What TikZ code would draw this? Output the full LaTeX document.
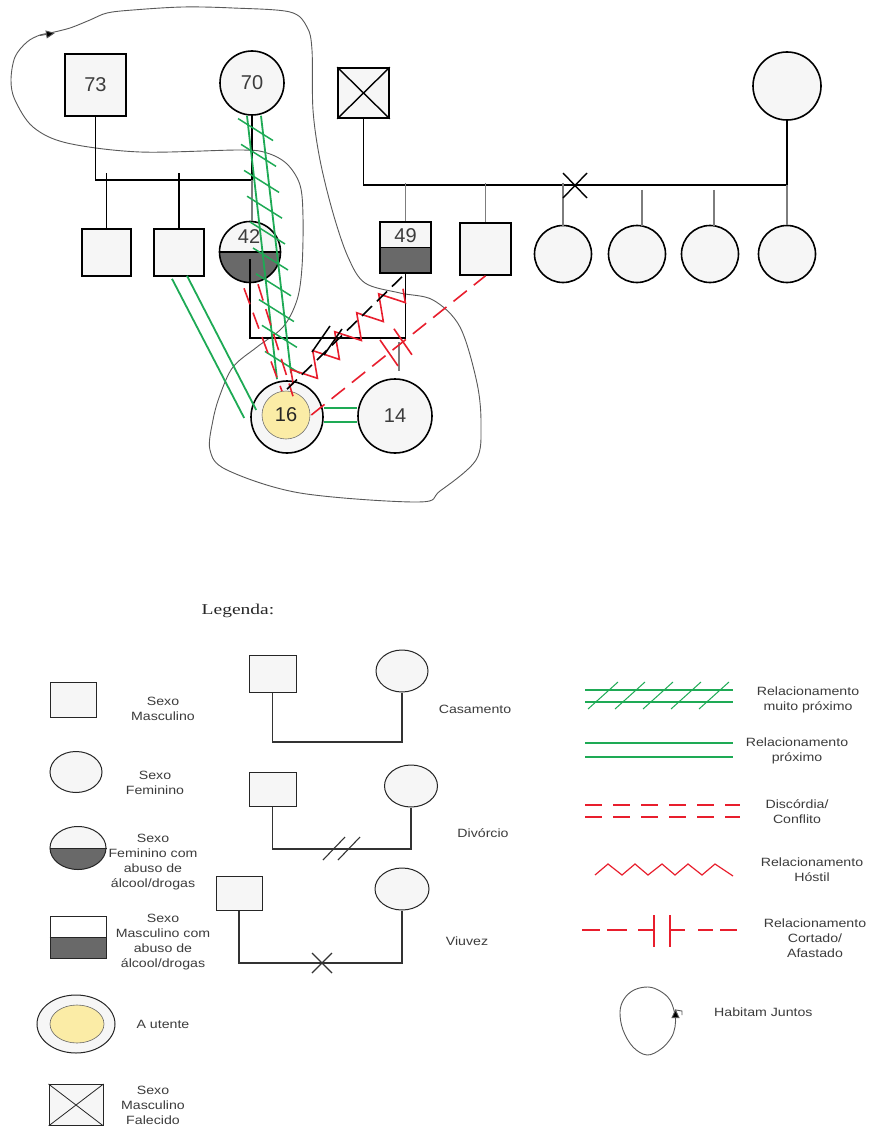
\documentclass[tikz,border=0pt]{standalone}
\usepackage{fontspec}
\setmainfont{Liberation Sans}
\newfontfamily\arialf{Liberation Sans}
\newfontfamily\legf[FakeStretch=1.18]{Liberation Sans}
\newfontfamily\serf[FakeStretch=1.3]{Liberation Serif}
\usetikzlibrary{shapes.geometric,calc,decorations.pathmorphing,arrows.meta}
\definecolor{lfill}{RGB}{246,246,246}
\definecolor{dfill}{RGB}{105,105,105}
\definecolor{ugreen}{RGB}{30,170,85}
\definecolor{ured}{RGB}{232,30,45}
\definecolor{ugray}{RGB}{125,125,125}
\definecolor{uyel}{RGB}{251,236,166}
\definecolor{txt}{RGB}{60,60,60}
\tikzset{
  pers/.style={draw=black, line width=1.6pt, fill=lfill, inner sep=0pt},
  num/.style={font=\arialf\fontsize{20}{20}\selectfont, text=txt, inner sep=0pt},
  halfshade/.style={path picture={\fill[dfill] (path picture bounding box.west) rectangle (path picture bounding box.south east);}},
  blk/.style={draw=black, line width=1.6pt},
  gry/.style={draw=ugray, line width=1.1pt},
  gline/.style={draw=ugreen, line width=1.8pt},
  ghatch/.style={draw=ugreen, line width=1.5pt},
  rdash/.style={draw=ured, line width=1.6pt, dash pattern=on 17pt off 9pt},
  rline/.style={draw=ured, line width=1.6pt},
  cont/.style={draw=black!65, line width=0.9pt},
  lg/.style={font=\legf\fontsize{12}{15}\selectfont, align=center, text=txt, inner sep=0pt},
  lpers/.style={draw=black!85, line width=1pt, fill=lfill, inner sep=0pt},
  lline/.style={draw=black!80, line width=1.1pt},
  lgreen/.style={draw=ugreen, line width=1.2pt},
  lred/.style={draw=ured, line width=1.2pt},
}
\begin{document}
\begin{tikzpicture}[x=1pt,y=-1pt]
\fill[white] (0,0) rectangle (868,1126);
\useasboundingbox (0,0) rectangle (868,1126);

% ---------- living-together contour ----------
\draw[cont] plot[smooth cycle, tension=0.55] coordinates {
 (50,33) (70,28) (90,20) (107,13) (133,10) (183,7) (233,8) (290,12) (307,27) (312,50)
 (313,110) (320,160) (333,213) (348,257) (365,283) (400,293) (433,300) (460,327)
 (477,383) (481,425) (476,460) (440,491) (418,502) (300,493) (227,470) (210,450)
 (213,420) (220,395) (233,367) (257,347) (283,327) (297,300) (302,267) (303,217)
 (300,185) (287,164) (267,153) (240,150) (140,152) (67,143) (33,127) (15,100)
 (11,80) (15,57) (27,42) (40,35)};
\draw[cont, -{Triangle[length=9pt,width=8pt]}, arrows={-{Triangle[length=9pt,width=8pt,fill=black]}}] (40,35.5) -- (55,33);

% ---------- persons ----------
\node[pers, rectangle, minimum width=61pt, minimum height=62pt, num] (n73) at (95.5,85) {73};
\node[pers, circle, minimum size=64pt, num] (n70) at (252,83) {70};
\node[pers, rectangle, minimum width=51pt, minimum height=50pt] (nD) at (363.5,93) {};
\draw[line width=1.4pt] (nD.north west) -- (nD.south east) (nD.north east) -- (nD.south west);
\node[pers, circle, minimum size=68pt] (nW) at (787,86) {};

\node[pers, rectangle, minimum width=49pt, minimum height=47pt] (s1) at (106.5,252.5) {};
\node[pers, rectangle, minimum width=50pt, minimum height=47pt] (s2) at (179,252.5) {};
\node[pers, circle, minimum size=61pt, halfshade] (n42) at (250,252) {};
\draw[line width=1.4pt] (n42.west) -- (n42.east);
\node[num] (t42) at (249,237) {42};

\node[pers, rectangle, minimum width=51pt, minimum height=51pt, halfshade] (n49) at (405.5,247.5) {};
\draw[line width=1.4pt] (n49.west) -- (n49.east);
\node[num] (t49) at (405.5,236) {49};
\node[pers, rectangle, minimum width=51pt, minimum height=52pt] (nU) at (485.5,249) {};
\node[pers, circle, minimum size=57pt] (c1) at (563,254) {};
\node[pers, circle, minimum size=57pt] (c2) at (637,254) {};
\node[pers, circle, minimum size=57pt] (c3) at (710,254) {};
\node[pers, circle, minimum size=57pt] (c4) at (787,254) {};

\node[pers, circle, minimum size=72pt] (n16) at (287,417) {};
\node[circle, draw=black!55, line width=0.6pt, fill=uyel, minimum size=48pt, inner sep=0pt, num, text=black!85] (n16i) at (286,415) {16};
\node[pers, circle, minimum size=74pt, num] (n14) at (395,416) {14};

% ---------- family lines ----------
\coordinate (m1) at (252,180);
\draw[blk] (n73.south) |- (m1) -- (n70.south);
\draw[gry] (m1) -- (m1 |- n42.north);
\draw[blk] (s1.north) -- (s1.north |- 0,173);
\draw[blk] (s2.north) -- (s2.north |- 0,173);

\coordinate (m2) at (787,185);
\draw[blk] (nD.south) |- (m2) -- (nW.south);
\draw[gry] (m2) -- (c4.north);
\draw[gry] (n49.north) -- (n49.north |- 0,183);
\draw[gry] (nU.north) -- (nU.north |- 0,183);
\draw[gry] (563,183) -- (563,226);
\draw[gry] (642,190) -- (642,226);
\draw[gry] (714,190) -- (714,226);
\draw[line width=1.4pt] (563,173) -- (587,198) (563,198) -- (587,173);

\coordinate (m3) at (250,338);
\draw[blk] ($(n42.center)+(0,7)$) -- (m3) -| (n49.south);
\draw[gry] ($(n14.north)+(4,-36)$) -- ($(n14.north)+(4,-7)$);

% ---------- relationships ----------
% very close 70 - 16
\draw[gline] ($(n70.south)+(-5,0)$) -- ($(n16.north)+(-10,-1)$);
\draw[gline] ($(n70.south)+(9,0)$) -- ($(n16.north)+(4,-7)$);
\coordinate (hc1) at ($(n70.south)+(2,0)$);
\coordinate (hc2) at ($(n16.north)+(-3,-4)$);
\foreach \t in {0.053,0.152,0.252,0.351,0.450,0.550,0.649,0.748,0.847,0.947}
  \draw[ghatch] ($(hc1)!\t!(hc2)+(-17.5,-11)$) -- ++(35,22);

% close s2 - 16
\draw[gline] ($(s2.south)+(-7,2)$) -- ($(n16.west)+(-6,1)$);
\draw[gline] ($(s2.south)+(8,-1)$) -- ($(n16.west)+(6,-7)$);
% close 16 - 14
\draw[gline] ($(n16.east)+(0,-9)$) -- ($(n14.west)+(0,-8)$);
\draw[gline] ($(n16.east)+(0,5)$) -- ($(n14.west)+(0,6)$);

% conflict 42 - 16
\draw[rdash] ($(n42.south)+(-6,5)$) -- ($(n16.north)+(-5,11)$);
\draw[rdash] ($(n42.south)+(8,1)$) -- ($(n16.north)+(6,16)$);

% hostile 49 - 16
\draw[rline, line join=miter, decorate, decoration={zigzag, segment length=29pt, amplitude=12pt}]
  ($(n49.south)+(-2.5,15)$) -- ($(n16.north)+(4,5)$);
\draw[blk, dash pattern=on 14pt off 7pt] ($(n49.south)+(-3.5,3)$) -- ($(n16.north)+(0,9)$);
\draw[line width=1.5pt] (312,352) -- (330,326);
\draw[line width=1.5pt] (324,355) -- (342,329);

% cut off 16 - nU
\coordinate (k1) at ($(n16i.east)+(1,0)$);
\coordinate (k2) at (nU.south);
\draw[rdash] (k1) -- (k2);
\draw[rline] ($(k1)!0.446!(k2)+(-9,-13)$) -- ++(18,26);
\draw[rline] ($(k1)!0.526!(k2)+(-9,-13)$) -- ++(18,26);

% ---------- legend ----------
\node[font=\serf\fontsize{15}{15}\selectfont, text=black!85] (leg) at (238,611) {Legenda:};

% left column
\node[lpers, rectangle, minimum width=46pt, minimum height=35pt] (L1) at (73,699.5) {};
\node[lg] (L1t) at (163,709) {Sexo\\Masculino};
\node[lpers, ellipse, minimum width=52pt, minimum height=41pt] (L2) at (76,772) {};
\node[lg] (L2t) at (155,783) {Sexo\\Feminino};
\node[lpers, ellipse, minimum width=56pt, minimum height=43pt, halfshade] (L3) at (78,848) {};
\draw[draw=black!85, line width=1pt] (L3.west) -- (L3.east);
\node[lg] (L3t) at (153,862) {Sexo\\Feminino com\\abuso de\\álcool/drogas};
\node[lpers, rectangle, minimum width=56pt, minimum height=42pt, fill=white, halfshade] (L4) at (78,937) {};
\draw[draw=black!85, line width=1pt] (L4.west) -- (L4.east);
\node[lg] (L4t) at (163,942) {Sexo\\Masculino com\\abuso de\\álcool/drogas};
\node[lpers, ellipse, minimum width=78pt, minimum height=58pt] (L5) at (76,1024) {};
\node[ellipse, draw=black!60, line width=0.6pt, fill=uyel, minimum width=54pt, minimum height=38pt, inner sep=0pt] (L5i) at (77,1024) {};
\node[lg] (L5t) at (163,1024) {A utente};
\node[lpers, rectangle, minimum width=54pt, minimum height=41pt] (L6) at (76,1105) {};
\draw[draw=black!85, line width=0.8pt] (L6.north west) -- (L6.south east) (L6.north east) -- (L6.south west);
\node[lg] (L6t) at (153,1105) {Sexo\\Masculino\\Falecido};

% middle column
\node[lpers, rectangle, minimum width=47pt, minimum height=37pt] (M1a) at (272.5,673.5) {};
\node[lpers, ellipse, minimum width=52pt, minimum height=42pt] (M1b) at (402,671) {};
\coordinate (M1c) at (272.5,742);
\draw[lline] (M1a.south) -- (M1c) -| (M1b.south);
\node[lg] (M1t) at (475,709) {Casamento};

\node[lpers, rectangle, minimum width=47pt, minimum height=34pt] (M2a) at (272.5,789) {};
\node[lpers, ellipse, minimum width=53pt, minimum height=42pt] (M2b) at (411,786) {};
\coordinate (M2c) at (272.5,849);
\draw[lline] (M2a.south) -- (M2c) -| (M2b.south);
\draw[lline] (323,860) -- (345,837) (338,860) -- (360,837);
\node[lg] (M2t) at (483,833) {Divórcio};

\node[lpers, rectangle, minimum width=46pt, minimum height=34pt] (M3a) at (239,893) {};
\node[lpers, ellipse, minimum width=54pt, minimum height=42pt] (M3b) at (402,889) {};
\coordinate (M3c) at (239,963);
\draw[lline] (M3a.south) -- (M3c) -| (M3b.south);
\draw[lline] (312,953) -- (332,973) (312,973) -- (332,953);
\node[lg] (M3t) at (467,941) {Viuvez};

% right column
\coordinate (R1a) at (585,690); \coordinate (R1b) at (733,690);
\draw[lgreen] (R1a) -- (R1b);
\draw[lgreen] ($(R1a)+(0,12)$) -- ($(R1b)+(0,12)$);
\foreach \x in {588,615,643,671,699}
  \draw[draw=ugreen, line width=1pt] (\x,709) -- ++(30,-27);
\node[lg] (R1t) at (808,700) {Relacionamento\\muito próximo};

\coordinate (R2a) at (585,743); \coordinate (R2b) at (733,743);
\draw[lgreen] (R2a) -- (R2b);
\draw[lgreen] ($(R2a)+(0,14)$) -- ($(R2b)+(0,14)$);
\node[lg] (R2t) at (797,751) {Relacionamento\\próximo};

\coordinate (R3a) at (585,805); \coordinate (R3b) at (740,805);
\draw[lred, dash pattern=on 17pt off 11pt] (R3a) -- (R3b);
\draw[lred, dash pattern=on 17pt off 11pt] ($(R3a)+(0,12)$) -- ($(R3b)+(0,12)$);
\node[lg] (R3t) at (797,812) {Discórdia/\\Conflito};

\draw[lred] (595,875) -- (608,864) -- (622,875) -- (635,864) -- (648,875) -- (662,864)
  -- (675,875) -- (688,864) -- (702,875) -- (715,864) -- (733,876);
\node[lg] (R4t) at (812,870) {Relacionamento\\Hóstil};

\draw[lred] (582,930) -- (600,930) (607,930) -- (627,930) (638,930) -- (654,930)
  (670,930) -- (685,930) (698,930) -- (713,930) (720,930) -- (737,930);
\draw[lred] (654,915) -- (654,947) (670,915) -- (670,947);
\node[lg] (R5t) at (815,938) {Relacionamento\\Cortado/\\Afastado};

\draw[cont] plot[smooth cycle, tension=0.6] coordinates {
 (675,1015) (670,1000) (660,991) (648,987) (634,990) (624,999) (620,1012)
 (623,1030) (633,1047) (647,1055) (661,1049) (671,1038) (675,1027)};
\draw[cont, -{Triangle[length=9pt,width=8pt,fill=black]}] (675.5,1024) -- (675.5,1009);
\draw[cont] (676,1010) -- (682,1011) -- (682,1015);
\node[lg, anchor=west] (R6t) at (714,1012) {Habitam Juntos};
\end{tikzpicture}
\end{document}
